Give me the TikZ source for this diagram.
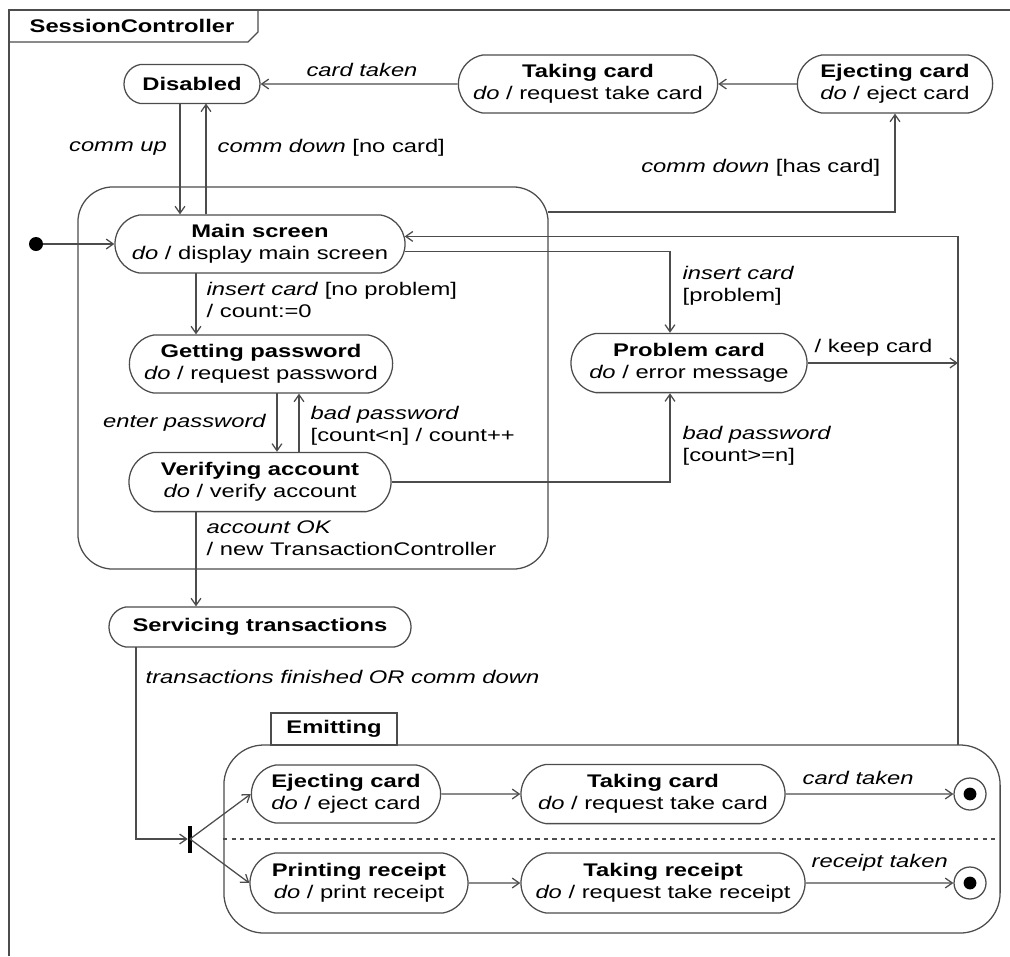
\documentclass[tikz,border=0pt]{standalone}
\usepackage{fontspec}
\setmainfont{Liberation Sans}[FakeStretch=1.3]
\usetikzlibrary{arrows.meta,positioning,shapes.misc}

\begin{document}
\begin{tikzpicture}[x=0.025cm,y=-0.025cm,
  every node/.style={font=\fontsize{13}{15.6}\selectfont,align=center},
  state/.style={draw=black!70,line width=0.9pt,rounded rectangle,rounded rectangle arc length=160,inner sep=0pt,minimum height=1.45cm},
  final/.style={circle,draw=black!70,line width=0.9pt,minimum size=0.8cm,inner sep=0pt,path picture={\fill[black] (path picture bounding box.center) circle (0.16cm);}},
  trans/.style={draw=black!70,line width=0.9pt,-{Straight Barb[length=5pt,width=7pt]}},
  lbl/.style={align=left,inner sep=1pt}]
\useasboundingbox (0,0) rectangle (1010,956);
\draw[black!70,line width=0.9pt] (1010,10) -- (9,10) -- (9,956);
\draw[black!70,line width=0.9pt] (9,42) -- (248,42) -- (258,32) -- (258,10);
\node (title) at (132,26) {\textbf{SessionController}};
\node[draw=black!70,line width=0.9pt,rounded corners=0.875cm,minimum width=11.75cm,minimum height=9.55cm] (act) at (313,378) {};
\node[draw=black!70,line width=0.9pt,rounded corners=1cm,minimum width=19.4cm,minimum height=4.7cm] (emit) at (612,839) {};
\node[draw=black!70,line width=0.9pt,minimum width=3.15cm,minimum height=0.8cm] (etab) at (334,729) {\textbf{Emitting}};
\draw[black!70,line width=0.9pt,dashed] (emit.west) -- (emit.east);
\node[state,minimum width=3.4cm,minimum height=0.975cm] (dis) at (192,84) {\textbf{Disabled}};
\node[state,minimum width=6.48cm] (tk1) at (588,84) {\textbf{Taking card}\\\textit{do} / request take card};
\node[state,minimum width=4.88cm] (ej1) at (895,84) {\textbf{Ejecting card}\\\textit{do} / eject card};
\node[state,minimum width=7.25cm] (ms) at (260,244) {\textbf{Main screen}\\\textit{do} / display main screen};
\node[state,minimum width=6.58cm] (gp) at (261,364) {\textbf{Getting password}\\\textit{do} / request password};
\node[state,minimum width=6.55cm,minimum height=1.48cm] (va) at (260,482) {\textbf{Verifying account}\\\textit{do} / verify account};
\node[state,minimum width=5.9cm,minimum height=1.48cm] (pc) at (689,363) {\textbf{Problem card}\\\textit{do} / error message};
\node[state,minimum width=7.55cm,minimum height=1cm] (st) at (260,627) {\textbf{Servicing transactions}};
\node[state,minimum width=4.73cm] (ej2) at (346,794) {\textbf{Ejecting card}\\\textit{do} / eject card};
\node[state,minimum width=6.6cm,minimum height=1.48cm] (tk2) at (653,794) {\textbf{Taking card}\\\textit{do} / request take card};
\node[state,minimum width=5.45cm,minimum height=1.5cm] (pr) at (359,883) {\textbf{Printing receipt}\\\textit{do} / print receipt};
\node[state,minimum width=7.1cm,minimum height=1.5cm] (tr) at (663,883) {\textbf{Taking receipt}\\\textit{do} / request take receipt};
\node[circle,fill=black,inner sep=0pt,minimum size=0.35cm] (ini) at (36,244) {};
\node[fill=black,inner sep=0pt,minimum width=0.1cm,minimum height=0.675cm] (fork) at (190,839) {};
\node[final] (f1) at (970,794) {};
\node[final] (f2) at (970,883) {};
\coordinate (cu) at (180,103.5);
\coordinate (cd) at (206,103.5);
\coordinate (hc) at (548,212);
\coordinate (ic) at (196,273);
\coordinate (ep) at (277,393);
\coordinate (bp) at (299,452.5);
\coordinate (ok) at (196,511.5);
\coordinate (tf) at (136,647);
\coordinate (px) at (670,300);
\coordinate (jn) at (958,236);
\coordinate (et) at (958,745);
\foreach \a/\b in {ej1/tk1,tk1/dis,ini/ms,ej2/tk2,pr/tr,tk2/f1,tr/f2}{\draw[trans] (\a)--(\b);}
\foreach \b in {ej2,pr}{\draw[trans] (fork.center) -- (\b.west);}
\draw[trans] (cu) -- (cu |- ms.north);
\draw[trans] (cd |- ms.north) -- (cd);
\draw[trans] (hc) -| (ej1.south);
\draw[trans] (ic) -- (ic |- gp.north);
\draw[trans] (ep) -- (ep |- va.north);
\draw[trans] (bp) -- (bp |- gp.south);
\draw[trans] (ok) -- (ok |- st.north);
\draw[trans] (tf) |- (fork.west);
\draw[trans] (ms.-3) -| (px |- pc.north);
\draw[trans] (va.east) -| (px |- pc.south);
\draw[trans] (pc.east) -- (pc.east -| jn);
\draw[trans] (et) |- (ms.3);
\node[lbl] (lct1) at (362,70) {\textit{card taken}};
\node[lbl] (lcu) at (118,148) {\textit{comm up}};
\node[lbl,anchor=west] (lcd) at (216,148) {\textit{comm down} [no card]};
\node[lbl,anchor=east] (lhc) at (882,168) {\textit{comm down} [has card]};
\node[lbl,anchor=west] (lic) at (205,300) {\textit{insert card} [no problem]\\/ count:=0};
\node[lbl,anchor=east] (lep) at (268,423) {\textit{enter password}};
\node[lbl,anchor=west] (lbp) at (309,426) {\textit{bad password}\\{}[count<n] / count++};
\node[lbl,anchor=west] (lok) at (205,538) {\textit{account OK}\\/ new TransactionController};
\node[lbl,anchor=west] (lip) at (681,286) {\textit{insert card}\\{}[problem]};
\node[lbl,anchor=west] (lbn) at (681,446) {\textit{bad password}\\{}[count>=n]};
\node[lbl,anchor=west] (lkc) at (813,348) {/ keep card};
\node[lbl,anchor=west] (ltf) at (144,677) {\textit{transactions finished OR comm down}};
\node[lbl,anchor=west] (lct2) at (801,778) {\textit{card taken}};
\node[lbl,anchor=west] (lrt) at (810,863) {\textit{receipt taken}};
\end{tikzpicture}
\end{document}
